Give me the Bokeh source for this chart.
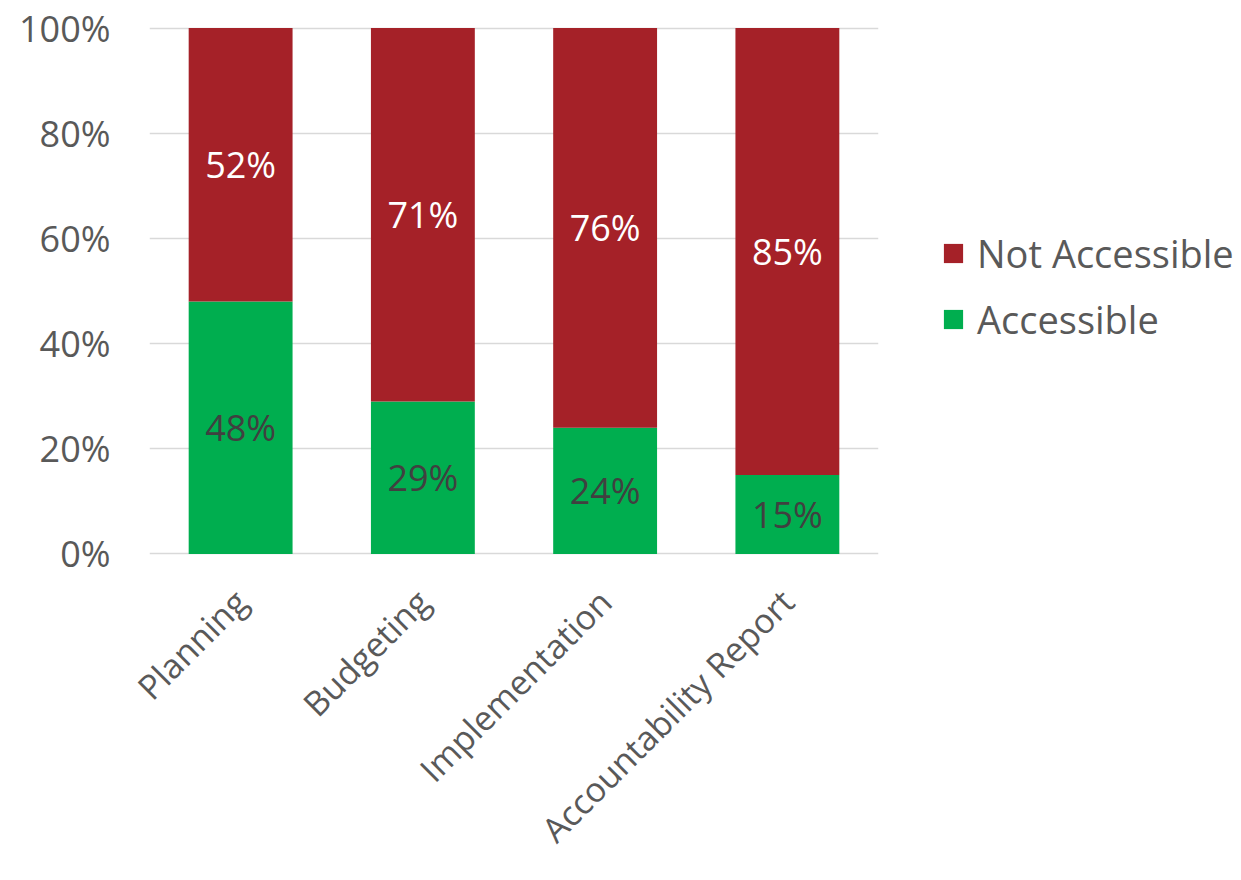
from bokeh.plotting import figure
from bokeh.layouts import row
from bokeh.models import ColumnDataSource, Legend, LegendItem, NumeralTickFormatter, FixedTicker, LabelSet, Range1d
from bokeh.embed import file_html
from bokeh.resources import INLINE
from bokeh.core.properties import value
import math

categories = ["Planning", "Budgeting", "Implementation", "Accountability Report"]
accessible = [0.48, 0.29, 0.24, 0.15]
not_accessible = [0.52, 0.71, 0.76, 0.85]
y_ticks = [0, 0.2, 0.4, 0.6, 0.8, 1.0]
series_names = ["Not Accessible", "Accessible"]

GREEN = "#00AE4F"
RED = "#A52128"
FONT = "Open Sans"

src = ColumnDataSource(dict(
    cat=categories,
    acc=accessible,
    nacc=not_accessible,
    acc_mid=[a / 2 for a in accessible],
    nacc_mid=[a + n / 2 for a, n in zip(accessible, not_accessible)],
    acc_lbl=["{:.0f}%".format(a * 100) for a in accessible],
    nacc_lbl=["{:.0f}%".format(n * 100) for n in not_accessible],
))

H = 878
p = figure(x_range=categories, y_range=Range1d(-0.003, 1.003), width=888, height=H,
           output_backend="svg", toolbar_location=None,
           min_border_left=149, min_border_right=10, min_border_top=26, min_border_bottom=323)
p.outline_line_color = None

r = p.vbar_stack(["acc", "nacc"], x="cat", width=0.57, source=src,
                 color=[GREEN, RED], line_color=None)

p.add_layout(LabelSet(x="cat", y="acc_mid", text="acc_lbl", source=src,
                      text_align="center", text_baseline="middle",
                      text_font=value(FONT), text_font_size="36px", text_color="#404040"))
p.add_layout(LabelSet(x="cat", y="nacc_mid", text="nacc_lbl", source=src,
                      text_align="center", text_baseline="middle",
                      text_font=value(FONT), text_font_size="36px", text_color="#FFFFFF"))

p.yaxis.ticker = FixedTicker(ticks=y_ticks)
p.yaxis.formatter = NumeralTickFormatter(format="0%")
p.yaxis.major_label_text_font = FONT
p.yaxis.major_label_text_font_size = "36px"
p.yaxis.major_label_text_color = "#595959"
p.yaxis.major_label_standoff = 33
p.yaxis.axis_line_color = None
p.yaxis.major_tick_line_color = None
p.yaxis.minor_tick_line_color = None

p.xaxis.major_label_orientation = math.pi / 4
p.xaxis.major_label_text_font = FONT
p.xaxis.major_label_text_font_size = "34px"
p.xaxis.major_label_text_color = "#595959"
p.xaxis.major_label_standoff = 34
p.xaxis.axis_line_color = None
p.xaxis.major_tick_line_color = None
p.xaxis.minor_tick_line_color = None

p.xgrid.grid_line_color = None
p.ygrid.grid_line_color = "#D9D9D9"
p.ygrid.grid_line_width = 1.5

# legend panel (separate figure so the legend is not clipped by the chart frame)
p2 = figure(width=352, height=H, output_backend="svg", toolbar_location=None,
            min_border_left=0, min_border_right=0, min_border_bottom=323,
            min_border_top=26, outline_line_color=None)
p2.axis.visible = False
p2.grid.visible = False
# zero-height proxy bars: they only supply the legend swatches
d_red = p2.vbar(x=[0], top=[0], width=0, color=RED, line_color=None)
d_green = p2.vbar(x=[0], top=[0], width=0, color=GREEN, line_color=None)

legend = Legend(items=[LegendItem(label=series_names[0], renderers=[d_red]),
                       LegendItem(label=series_names[1], renderers=[d_green])],
                location=(53, 210), orientation="vertical",
                label_text_font=FONT, label_text_font_size="38px",
                label_text_color="#595959", glyph_width=24, glyph_height=24,
                spacing=14, padding=0, margin=0, border_line_color=None,
                background_fill_alpha=0, label_standoff=12)
p2.add_layout(legend, "center")

open("out.html", "w").write(file_html(row(p, p2), INLINE))
